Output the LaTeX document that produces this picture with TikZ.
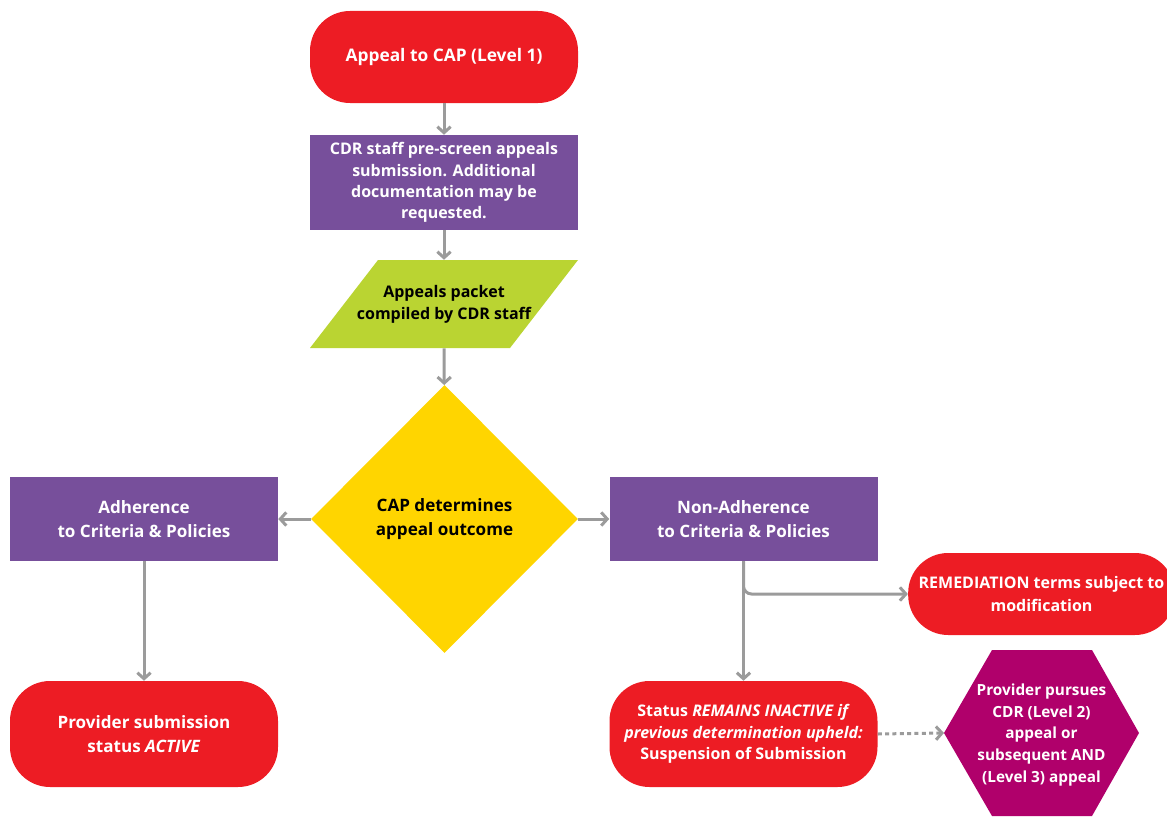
\documentclass[tikz,border=0pt]{standalone}
\usepackage{fontspec}
\setmainfont{Open Sans}
\usetikzlibrary{arrows.meta,shapes.geometric}
\definecolor{cred}{HTML}{ED1C24}
\definecolor{cpurple}{HTML}{774F9B}
\definecolor{cgreen}{HTML}{BAD432}
\definecolor{cyellow}{HTML}{FFD500}
\definecolor{cmag}{HTML}{B0006B}
\definecolor{carrow}{HTML}{9B9B9B}
\begin{document}
\begin{tikzpicture}[x=0.75pt,y=-0.75pt,
  every node/.style={font=\bfseries\fontsize{12.8pt}{18pt}\selectfont, align=center, inner sep=0pt},
  term/.style={rectangle, rounded corners=30pt, fill=cred, text=white, minimum width=201pt},
  proc/.style={rectangle, fill=cpurple, text=white, minimum width=201pt},
  arr/.style={draw=carrow, line width=2.25pt, -{Straight Barb[length=4.5pt,width=10pt,line width=2.25pt]}},
  darr/.style={arr, dash pattern=on 3pt off 2.5pt}
]
\useasboundingbox (0,0) rectangle (1167,817);
% top
\node[term, minimum height=69pt, font=\bfseries\fontsize{13pt}{17pt}\selectfont] (start) at (444,57) {Appeal to CAP (Level 1)};
\node[proc, minimum height=71.25pt, font=\bfseries\fontsize{12pt}{16pt}\selectfont] (prescreen) at (444,182.5) {CDR staff pre-screen appeals\\submission. Additional\\documentation may be\\requested.};
% parallelogram
\fill[cgreen] (378,260) -- (578,260) -- (510,348) -- (310,348) -- cycle;
\node[minimum width=150pt, minimum height=66pt, font=\bfseries\fontsize{12pt}{16.5pt}\selectfont] (packet) at (444,304) {Appeals packet\\compiled by CDR staff};
% diamond
\node[diamond, fill=cyellow, minimum width=200.25pt, minimum height=201pt] (cap) at (444.5,519) {CAP determines\\appeal outcome};
% side boxes
\node[proc, minimum height=63pt] (adh) at (144,519) {Adherence\\to Criteria \& Policies};
\node[proc, minimum height=63pt] (nonadh) at (743.5,519) {Non-Adherence\\to Criteria \& Policies};
% bottom
\node[term, minimum height=79.5pt] (active) at (144,734) {Provider submission\\status \textit{ACTIVE}};
\node[term, minimum height=79.5pt, font=\bfseries\fontsize{12pt}{16pt}\selectfont] (status) at (743.5,734) {Status \textit{REMAINS INACTIVE if}\\\textit{previous determination upheld:}\\Suspension of Submission};
\node[term, minimum width=200pt, minimum height=61.5pt, font=\bfseries\fontsize{12pt}{17pt}\selectfont] (remed) at (1041.5,594) {REMEDIATION terms subject to\\modification};
% hexagon
\fill[cmag] (944,733) -- (992,650) -- (1092,650) -- (1139,733) -- (1092,816) -- (992,816) -- cycle;
\node[text=white, minimum width=146pt, minimum height=124pt, font=\bfseries\fontsize{11.5pt}{16.3pt}\selectfont] (hex) at (1041.5,735) {Provider pursues\\CDR (Level 2)\\appeal or\\subsequent AND\\(Level 3) appeal};
\coordinate (hexw) at (944,733);
% connectors
\draw[arr] (start) -- (prescreen);
\draw[arr] (prescreen) -- (packet);
\draw[arr] (packet) -- (cap);
\draw[arr] (cap.west) -- (adh.east);
\draw[arr] (cap.east) -- (nonadh.west);
\draw[arr] (adh) -- (active);
\draw[arr] (nonadh) -- (status);
\draw[arr, rounded corners=6pt] (nonadh.south) |- (remed.west);
\draw[darr] (status.east) -- (hexw);
\end{tikzpicture}
\end{document}
